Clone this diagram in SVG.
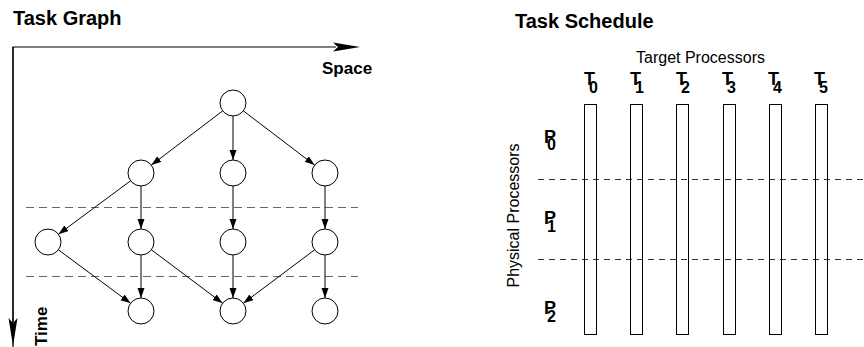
<svg xmlns="http://www.w3.org/2000/svg" width="864" height="347" viewBox="0 0 864 347">
  <style>
    .title { font-family: "Liberation Sans", Arial, sans-serif; font-weight: bold; font-size: 20px; fill: #000; }
    .axis-label { font-family: "Liberation Sans", Arial, sans-serif; font-weight: bold; font-size: 17px; fill: #000; }
    .label { font-family: "Liberation Sans", Arial, sans-serif; font-size: 16px; fill: #000; }
    .sym { font-family: "Liberation Sans", Arial, sans-serif; font-weight: bold; font-size: 18px; fill: #000; }
    .sub { font-family: "Liberation Sans", Arial, sans-serif; font-weight: bold; font-size: 16px; fill: #000; }
    .node circle { fill: #fff; stroke: #000; stroke-width: 1; }
    .edge { stroke: #000; stroke-width: 1; fill: none; marker-end: url(#arrow); }
    .axis { stroke: #000; stroke-width: 1.2; fill: none; }
    .sep-left { stroke: #666; stroke-width: 1.2; stroke-dasharray: 8 5; }
    .sep-right { stroke: #333; stroke-width: 1; stroke-dasharray: 6 5; }
    .column { fill: none; stroke: #000; stroke-width: 1; }
  </style>
  <defs>
    <marker id="arrow" markerUnits="userSpaceOnUse" markerWidth="11" markerHeight="8" refX="10" refY="3.5" orient="auto">
      <path d="M0,0 L10,3.5 L0,7 Z" fill="#000"/>
    </marker>
  </defs>

  <rect width="864" height="347" fill="#fff"/>

  <!-- Left panel: task graph -->
  <text class="title" x="13" y="25">Task Graph</text>

  <!-- space / time axes -->
  <g id="axes">
    <path class="axis" d="M13,347 L13,47 L336,47"/>
    <path d="M333,42.5 L360,47 L333,51.5 L338,47 Z" fill="#000"/>
    <path class="axis" d="M13,47 L13,322"/>
    <path d="M8.5,318 L13,346 L17.5,318 L13,323 Z" fill="#000"/>
    <text class="axis-label" x="322" y="74">Space</text>
    <text class="axis-label" transform="translate(47,346) rotate(-90)">Time</text>
  </g>

  <!-- time step separators -->
  <g id="separators-left">
    <line class="sep-left" x1="26" y1="207.5" x2="358" y2="207.5"/>
    <line class="sep-left" x1="26" y1="276.5" x2="358" y2="276.5"/>
  </g>

  <g id="connectors">
    <line class="edge" x1="222.6" y1="110.9" x2="151.4" y2="165.1"/>
    <line class="edge" x1="233" y1="116" x2="233" y2="160"/>
    <line class="edge" x1="243.4" y1="110.9" x2="314.6" y2="165.1"/>
    <line class="edge" x1="130.6" y1="180.8" x2="58.4" y2="234.3"/>
    <line class="edge" x1="141" y1="186" x2="141" y2="229"/>
    <line class="edge" x1="233" y1="186" x2="233" y2="229"/>
    <line class="edge" x1="325" y1="186" x2="325" y2="229"/>
    <line class="edge" x1="58.4" y1="249.8" x2="130.6" y2="303.3"/>
    <line class="edge" x1="141" y1="255" x2="141" y2="298"/>
    <line class="edge" x1="151.4" y1="249.8" x2="222.6" y2="303.2"/>
    <line class="edge" x1="233" y1="255" x2="233" y2="298"/>
    <line class="edge" x1="314.6" y1="249.8" x2="243.4" y2="303.2"/>
    <line class="edge" x1="325" y1="255" x2="325" y2="298"/>
  </g>

  <g id="n0" class="node"><circle cx="233" cy="103" r="13"/></g>
  <g id="n1" class="node"><circle cx="141" cy="173" r="13"/></g>
  <g id="n2" class="node"><circle cx="233" cy="173" r="13"/></g>
  <g id="n3" class="node"><circle cx="325" cy="173" r="13"/></g>
  <g id="n4" class="node"><circle cx="48" cy="242" r="13"/></g>
  <g id="n5" class="node"><circle cx="141" cy="242" r="13"/></g>
  <g id="n6" class="node"><circle cx="233" cy="242" r="13"/></g>
  <g id="n7" class="node"><circle cx="325" cy="242" r="13"/></g>
  <g id="n8" class="node"><circle cx="141" cy="311" r="13"/></g>
  <g id="n9" class="node"><circle cx="233" cy="311" r="13"/></g>
  <g id="n10" class="node"><circle cx="325" cy="311" r="13"/></g>

  <!-- Right panel: task schedule -->
  <text class="title" x="515" y="28">Task Schedule</text>
  <text class="label" x="700.5" y="63" text-anchor="middle">Target Processors</text>
  <text class="label" transform="translate(519,215.5) rotate(-90)" text-anchor="middle">Physical Processors</text>

  <g id="separators-right">
    <line class="sep-right" x1="538" y1="179.5" x2="864" y2="179.5"/>
    <line class="sep-right" x1="538" y1="259.5" x2="864" y2="259.5"/>
  </g>

  <g id="target-processors">
    <g id="t0"><rect class="column" x="584.5" y="104.5" width="12" height="230"/>
      <text class="sym" x="584" y="85">T</text><text class="sub" x="589" y="93">0</text></g>
    <g id="t1"><rect class="column" x="630.5" y="104.5" width="12" height="230"/>
      <text class="sym" x="630" y="85">T</text><text class="sub" x="635" y="93">1</text></g>
    <g id="t2"><rect class="column" x="676.5" y="104.5" width="12" height="230"/>
      <text class="sym" x="676" y="85">T</text><text class="sub" x="681" y="93">2</text></g>
    <g id="t3"><rect class="column" x="723.5" y="104.5" width="12" height="230"/>
      <text class="sym" x="722" y="85">T</text><text class="sub" x="727" y="93">3</text></g>
    <g id="t4"><rect class="column" x="769.5" y="104.5" width="12" height="230"/>
      <text class="sym" x="768" y="85">T</text><text class="sub" x="773" y="93">4</text></g>
    <g id="t5"><rect class="column" x="815.5" y="104.5" width="12" height="230"/>
      <text class="sym" x="814" y="85">T</text><text class="sub" x="819" y="93">5</text></g>
  </g>

  <g id="physical-processors">
    <g id="p0"><text class="sym" x="544" y="143">P</text><text class="sub" x="547" y="150">0</text></g>
    <g id="p1"><text class="sym" x="544" y="224">P</text><text class="sub" x="547" y="232">1</text></g>
    <g id="p2"><text class="sym" x="544" y="314">P</text><text class="sub" x="547" y="322">2</text></g>
  </g>
</svg>
